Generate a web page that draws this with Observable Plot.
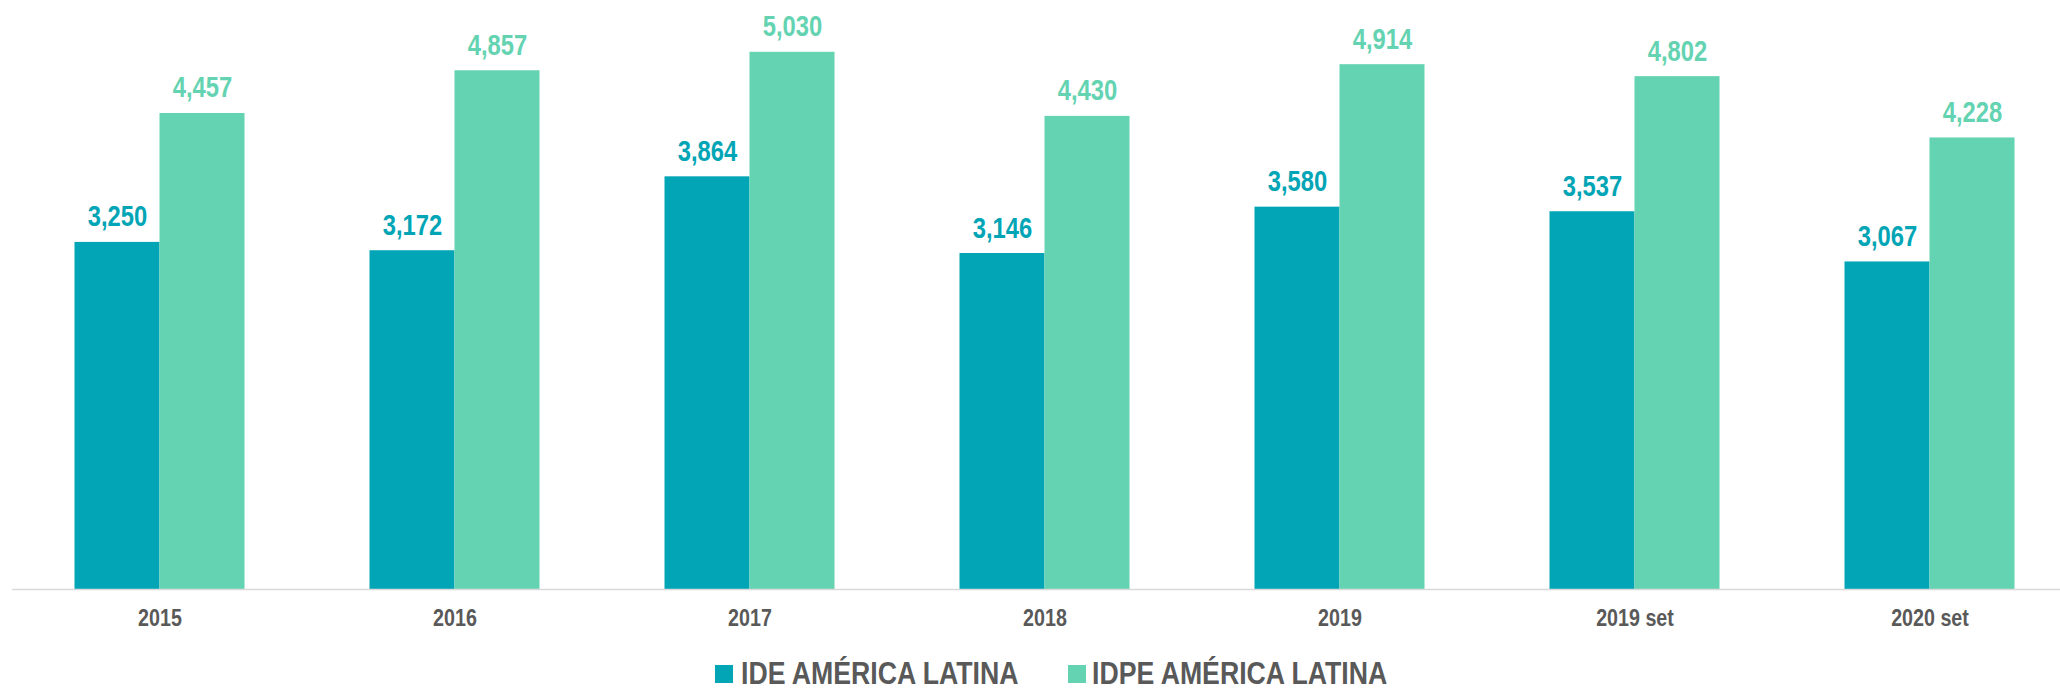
<!DOCTYPE html>
<html>
<head>
<meta charset="utf-8">
<script src="https://cdn.jsdelivr.net/npm/d3@7"></script>
<script src="https://cdn.jsdelivr.net/npm/@observablehq/plot@0.6"></script>
<style>
  html, body { margin: 0; padding: 0; background: #fff; }
  body { width: 2060px; height: 689px; overflow: hidden; position: relative; font-family: "Liberation Sans", Arial, sans-serif; }
  #legend { position: relative; height: 49px; }
  .sw { position: absolute; top: 25px; width: 18px; height: 18px; }
  .lab { position: absolute; top: 18px; font-size: 31px; font-weight: bold; color: #595959; line-height: 31px; white-space: nowrap; transform: scaleX(0.86); transform-origin: left center; }
</style>
</head>
<body>
<div id="chart"></div>
<div id="legend"></div>
<script>
const categories = ["2015", "2016", "2017", "2018", "2019", "2019 set", "2020 set"];
const ideValues = [3250, 3172, 3864, 3146, 3580, 3537, 3067];
const idpeValues = [4457, 4857, 5030, 4430, 4914, 4802, 4228];
const seriesNames = ["IDE AMÉRICA LATINA", "IDPE AMÉRICA LATINA"];
const seriesColors = ["#02A5B5", "#64D3B1"];

const ide = categories.map((c, i) => ({category: c, value: ideValues[i]}));
const idpe = categories.map((c, i) => ({category: c, value: idpeValues[i]}));
const fmt = d3.format(",");
const FONT = "Liberation Sans, Arial, sans-serif";
const half = 42.5;

const chart = Plot.plot({
  width: 2060,
  height: 640,
  marginLeft: 12,
  marginRight: 0,
  marginTop: 0,
  marginBottom: 51,
  style: {fontFamily: FONT, background: "#fff"},
  x: {domain: categories, range: [11, 2078], paddingInner: 0.712, paddingOuter: 0.356, label: null},
  y: {domain: [0, 5515], axis: null},
  marks: [
    Plot.barY(ide, {x: "category", y: "value", fill: seriesColors[0], dx: -half}),
    Plot.barY(idpe, {x: "category", y: "value", fill: seriesColors[1], dx: half}),
    Plot.ruleY([0], {stroke: "#D9D9D9", strokeWidth: 1.5}),
    Plot.text(ide, {x: "category", y: "value", text: d => fmt(d.value), dx: -half, dy: -16, lineAnchor: "bottom",
      fill: seriesColors[0], fontSize: 29, fontWeight: "bold", fontFamily: FONT}),
    Plot.text(idpe, {x: "category", y: "value", text: d => fmt(d.value), dx: half, dy: -16, lineAnchor: "bottom",
      fill: seriesColors[1], fontSize: 29, fontWeight: "bold", fontFamily: FONT}),
    Plot.axisX({tickSize: 0, tickPadding: 19, fontSize: 24, fontWeight: "bold", fill: "#595959", label: null, fontFamily: FONT})
  ]
});
document.getElementById("chart").appendChild(chart);

// narrow the text horizontally (Arial Narrow look) around each label's own center
chart.querySelectorAll("text").forEach(t => {
  const b = t.getBBox();
  const cx = b.x + b.width / 2;
  const prev = t.getAttribute("transform") || "";
  t.setAttribute("transform", `${prev} translate(${cx},0) scale(0.82,1) translate(${-cx},0)`.trim());
});

const legend = document.getElementById("legend");
const swLeft = [715, 1068];
const labLeft = [741, 1092];
seriesNames.forEach((name, i) => {
  const sw = document.createElement("div");
  sw.className = "sw";
  sw.style.background = seriesColors[i];
  sw.style.left = swLeft[i] + "px";
  const lab = document.createElement("span");
  lab.className = "lab";
  lab.textContent = name;
  lab.style.left = labLeft[i] + "px";
  legend.appendChild(sw);
  legend.appendChild(lab);
});
</script>
</body>
</html>
